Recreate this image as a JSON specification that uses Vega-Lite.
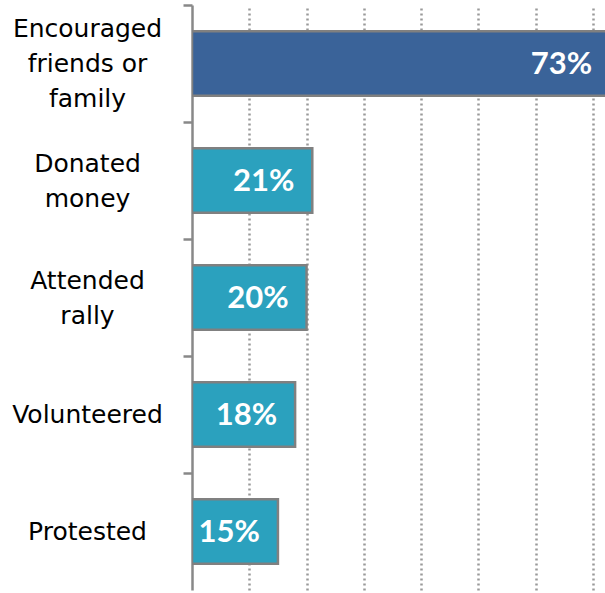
{
  "$schema": "https://vega.github.io/schema/vega-lite/v6.json",
  "width": 413,
  "height": 585,
  "autosize": {"type": "none"},
  "padding": {"left": 192, "top": 5, "right": 0, "bottom": 3},
  "background": "white",
  "config": {"view": {"stroke": null}},
  "data": {
    "values": [
      {"activity": "Encouraged|friends or|family", "share": 0.73, "group": "top"},
      {"activity": "Donated|money", "share": 0.21, "group": "other"},
      {"activity": "Attended|rally", "share": 0.20, "group": "other"},
      {"activity": "Volunteered", "share": 0.18, "group": "other"},
      {"activity": "Protested", "share": 0.15, "group": "other"}
    ]
  },
  "encoding": {
    "y": {
      "field": "activity",
      "type": "nominal",
      "sort": null,
      "scale": {"paddingInner": 0.45, "paddingOuter": 0.225},
      "axis": {
        "title": null,
        "tickOffset": -58.5,
        "labelOffset": {"expr": "58.5 - (length(split(datum.value, '|')) - 1) * 17.5"},
        "labelExpr": "split(datum.value, '|')",
        "labelAlign": "center",
        "labelBaseline": "middle",
        "labelPadding": 96,
        "tickSize": 9,
        "tickWidth": 2.5,
        "tickColor": "#888888",
        "domainColor": "#888888",
        "domainWidth": 2.5,
        "labelFont": "DejaVu Sans",
        "labelFontSize": 25,
        "labelColor": "#000000",
        "labelLineHeight": 35,
        "labelLimit": 300
      }
    },
    "x": {
      "field": "share",
      "type": "quantitative",
      "scale": {"domain": [0, 0.721], "nice": false},
      "axis": {
        "title": null,
        "labels": false,
        "ticks": false,
        "domain": false,
        "grid": true,
        "values": [0.1, 0.2, 0.3, 0.4, 0.5, 0.6, 0.7],
        "gridDash": [2, 3],
        "gridColor": "#999999",
        "gridWidth": 2.5
      }
    }
  },
  "layer": [
    {
      "mark": {"type": "bar", "clip": true, "stroke": "#808080", "strokeWidth": 2.5},
      "encoding": {
        "color": {
          "field": "group",
          "type": "nominal",
          "scale": {"domain": ["top", "other"], "range": ["#3A6399", "#2BA1BE"]},
          "legend": null
        }
      }
    },
    {
      "mark": {"type": "text", "align": "right", "baseline": "middle", "dx": -18, "dy": 1, "font": "Lato", "fontSize": 31, "fontWeight": "bold", "color": "white"},
      "encoding": {
        "text": {"field": "share", "type": "quantitative", "format": ".0%"}
      }
    }
  ]
}
